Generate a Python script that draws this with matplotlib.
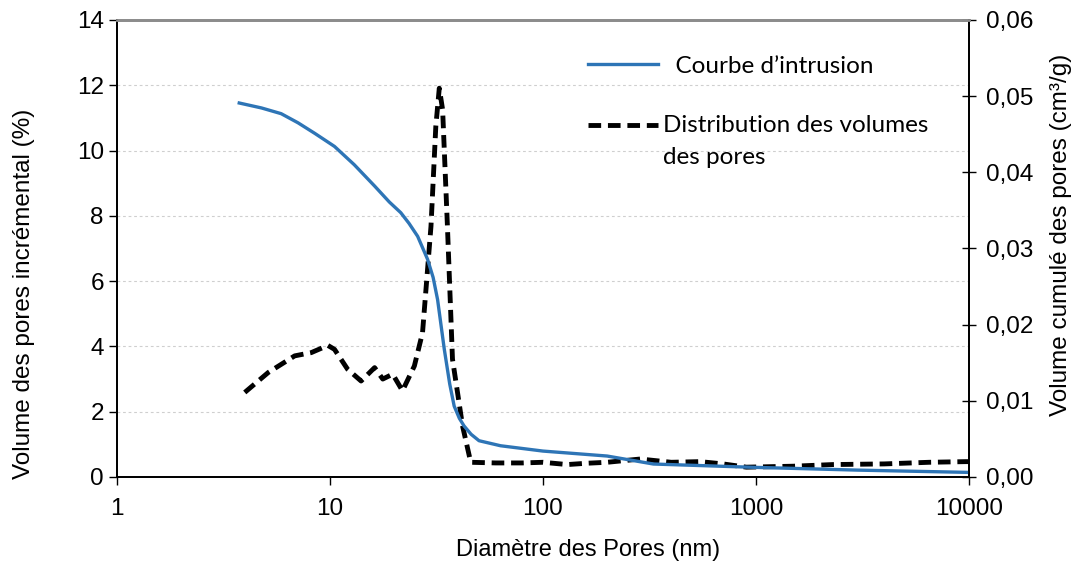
import numpy as np
import matplotlib.pyplot as plt
from matplotlib.ticker import FixedLocator, FuncFormatter
from matplotlib.legend_handler import HandlerLine2D

# diametre des pores (nm) / volume incremental (%)
d_inc = [3.98, 5.13, 6.83, 8.17, 9.78, 10.5, 12.1, 14.0, 16.2, 17.7, 19.7, 21.9,
         24.9, 27.2, 29.8, 31.4, 32.6, 33.8, 35.6, 37.6, 39.7, 41.9, 45.8,
         60, 80, 100, 130, 160, 200, 286, 400, 546, 700, 902, 1500, 2290,
         4000, 6500, 9660, 10000]
v_inc = [2.59, 3.2, 3.71, 3.81, 4.03, 3.91, 3.30, 2.94, 3.35, 3.0, 3.15, 2.64,
         3.40, 4.42, 7.68, 10.74, 11.91, 11.25, 7.68, 3.61, 2.59, 1.57, 0.45,
         0.43, 0.43, 0.45, 0.38, 0.42, 0.45, 0.55, 0.45, 0.47, 0.40, 0.30, 0.33, 0.38,
         0.40, 0.45, 0.47, 0.47]

# courbe d'intrusion (cm3/g)
d_cum = [3.75, 4.77, 5.9, 7.08, 8.5, 10.5, 13.0, 16.2, 19.0, 21.5, 23.5, 25.8,
         28.7, 30.5, 32.0, 34.4, 36.5, 38.3, 40.5, 42.6, 46.0, 50.1, 63.2, 100,
         200, 330, 968, 3000, 10000]
v_cum = [0.0491, 0.04845, 0.0477, 0.0465, 0.0451, 0.0434, 0.0410, 0.0382,
         0.0361, 0.0347, 0.0333, 0.0316, 0.0286, 0.0262, 0.0233, 0.0168,
         0.0122, 0.0093, 0.0077, 0.0067, 0.0056, 0.00476, 0.0041, 0.0034,
         0.00275, 0.0017, 0.00127, 0.0009, 0.0006]

x_ticks = [1, 10, 100, 1000, 10000]

LEG_SIZE = 17.5


class FirstLineHandler(HandlerLine2D):
    # put the legend line next to the first line of a two-line label
    def create_artists(self, legend, orig_handle, xdescent, ydescent,
                       width, height, fontsize, trans):
        arts = super().create_artists(legend, orig_handle, xdescent, ydescent,
                                      width, height, fontsize, trans)
        for a in arts:
            a.set_ydata(np.asarray(a.get_ydata()) + 0.7 * fontsize)
        return arts


fig = plt.figure(figsize=(10.77, 5.63), dpi=100)
ax = fig.add_axes([0.1086, 0.1528, 0.7911, 0.8117])
ax2 = ax.twinx()

l2, = ax.plot(d_inc, v_inc, color='black', lw=3.5, dashes=(2.6, 1.4),
              label='Distribution des volumes\ndes pores')
l1, = ax2.plot(d_cum, v_cum, color='#2e75b6', lw=2.4,
               label='  Courbe d’intrusion')

ax.set_xscale('log')
ax.set_xlim(1, 10000)
ax.set_ylim(0, 14)
ax2.set_ylim(0, 0.06)
ax.xaxis.set_major_locator(FixedLocator(x_ticks))
ax.xaxis.set_minor_locator(FixedLocator([]))
ax.xaxis.set_major_formatter(FuncFormatter(lambda v, p: '%d' % v))
ax.set_yticks(range(0, 15, 2))
ax2.set_yticks([0, 0.01, 0.02, 0.03, 0.04, 0.05, 0.06])
ax2.yaxis.set_major_formatter(FuncFormatter(lambda v, p: ('%.2f' % v).replace('.', ',')))

ax.grid(axis='y', color='#cfcfcf', ls=(0, (2.5, 2.5)), lw=0.8)

for a in (ax, ax2):
    a.spines['top'].set_color('#8c8c8c')
    a.spines['top'].set_linewidth(2)
    a.spines['left'].set_linewidth(1.3)
    a.spines['bottom'].set_linewidth(1.3)
    a.spines['right'].set_linewidth(1.3)
    a.tick_params(labelsize=17.5, length=6, width=1, colors='black')
ax.tick_params(axis='x', pad=9)
ax2.tick_params(axis='y', direction='inout', length=10, pad=7)

for lab in ax.get_xticklabels() + ax.get_yticklabels() + ax2.get_yticklabels():
    lab.set_family('Liberation Sans')

ax.set_xlabel('Diamètre des Pores (nm)', fontsize=17, family='Liberation Sans')
ax.xaxis.set_label_coords(0.553, -0.135)
ax.set_ylabel('Volume des pores incrémental (%)', fontsize=17.5, family='Liberation Sans')
ax.yaxis.set_label_coords(-0.096, 0.40)
ax2.set_ylabel('Volume cumulé des pores (cm³/g)', fontsize=17.5, family='Liberation Sans')
ax2.yaxis.set_label_coords(1.095, 0.53)

leg = ax2.legend(handles=[l1, l2], loc='upper left', bbox_to_anchor=(0.527, 0.97),
                 frameon=False, handlelength=2.9, handletextpad=0.2, labelspacing=1.6,
                 handler_map={l2: FirstLineHandler()},
                 prop={'family': 'Lato', 'size': LEG_SIZE})
leg.get_texts()[1].set_linespacing(1.6)

plt.savefig('out.png', dpi=100)
